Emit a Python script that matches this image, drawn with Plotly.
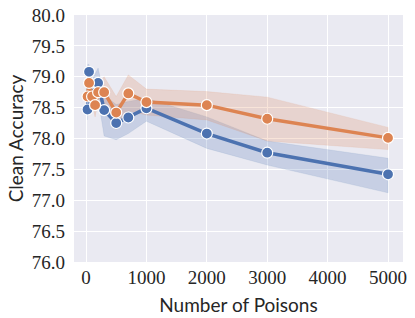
import plotly.graph_objects as go

num_poisons = [25, 50, 100, 150, 200, 300, 500, 700, 1000, 2000, 3000, 5000]

blue_mean = [78.47, 79.08, 78.72, 78.74, 78.90, 78.46, 78.25, 78.34, 78.49, 78.08, 77.77, 77.42]
blue_upper = [79.20, 79.20, 78.95, 79.05, 79.14, 78.70, 78.55, 78.60, 78.65, 78.35, 77.96, 77.68]
blue_lower = [78.30, 78.90, 78.50, 78.50, 78.65, 78.04, 77.98, 78.08, 78.28, 77.84, 77.57, 77.12]

orange_mean = [78.68, 78.90, 78.68, 78.54, 78.75, 78.75, 78.42, 78.73, 78.59, 78.54, 78.32, 78.01]
orange_upper = [78.85, 79.00, 78.80, 78.70, 78.90, 79.00, 78.68, 79.03, 78.80, 78.76, 78.67, 78.18]
orange_lower = [78.50, 78.80, 78.55, 78.35, 78.60, 78.50, 78.14, 78.45, 78.38, 78.30, 77.96, 77.82]

x_ticks = [0, 1000, 2000, 3000, 4000, 5000]
y_ticks = [76.0, 76.5, 77.0, 77.5, 78.0, 78.5, 79.0, 79.5, 80.0]

BLUE = "#4C72B0"
ORANGE = "#DD8452"

fig = go.Figure()

def add_band(lower, upper, fill):
    fig.add_trace(go.Scatter(
        x=num_poisons + num_poisons[::-1],
        y=upper + lower[::-1],
        fill="toself", fillcolor=fill,
        line=dict(color=fill, width=0.5),
        mode="lines", hoverinfo="skip", showlegend=False,
    ))

def add_line(mean, color):
    fig.add_trace(go.Scatter(
        x=num_poisons, y=mean, mode="lines+markers",
        line=dict(color=color, width=3.5),
        marker=dict(size=11, color=color, line=dict(color="white", width=1.2)),
        showlegend=False,
    ))

add_band(blue_lower, blue_upper, "rgba(76,114,176,0.22)")
add_band(orange_lower, orange_upper, "rgba(221,132,82,0.22)")
add_line(blue_mean, BLUE)
add_line(orange_mean, ORANGE)

tick_font = dict(family="Liberation Serif, DejaVu Serif, serif", size=19, color="#262626")
title_font = dict(family="Lato, Open Sans, sans-serif", size=19, color="#262626")

fig.update_layout(
    width=415, height=318,
    margin=dict(l=74, r=12, t=15, b=56),
    paper_bgcolor="white", plot_bgcolor="#EAEAF2",
)
fig.update_xaxes(
    range=[-199, 5248], tickvals=x_ticks, ticktext=[str(v) for v in x_ticks],
    showgrid=True, gridcolor="white", gridwidth=1.2, zeroline=False,
    tickfont=tick_font, ticks="", showline=False, automargin=False,
    ticklabeloverflow="allow", ticklabelstandoff=2,
    title=dict(text="Number of Poisons", font=title_font, standoff=11),
)
fig.update_yaxes(
    range=[76.0, 80.0], tickvals=y_ticks, ticktext=[f"{v:.1f}" for v in y_ticks],
    showgrid=True, gridcolor="white", gridwidth=1.2, zeroline=False,
    tickfont=tick_font, ticks="", showline=False, automargin=False,
    ticklabeloverflow="allow", ticklabelstandoff=8,
    title=dict(text="Clean Accuracy", font=title_font, standoff=3),
)

fig.write_html("out.html", config={"displayModeBar": False},
               post_script="document.body.style.margin='0';")
